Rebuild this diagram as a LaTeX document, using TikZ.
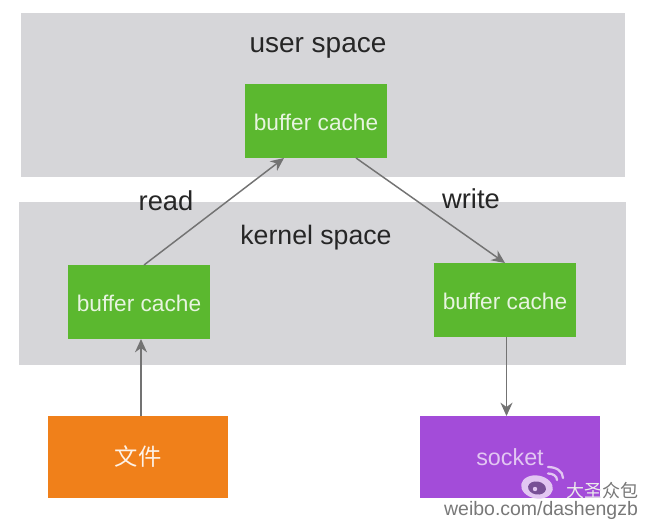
\documentclass[tikz,border=0pt]{standalone}
\usepackage{fontspec}
\setmainfont{Liberation Sans}
\newfontfamily\cjk{Noto Sans CJK SC}
\usetikzlibrary{arrows.meta}
\definecolor{panel}{RGB}{214,214,217}
\definecolor{gbox}{RGB}{91,184,47}
\definecolor{obox}{RGB}{240,128,26}
\definecolor{pbox}{RGB}{163,76,217}
\definecolor{conn}{RGB}{115,115,115}
\definecolor{logo}{RGB}{226,198,242}
\definecolor{eyec}{RGB}{120,80,150}
\definecolor{wmtext}{RGB}{120,120,120}
\tikzset{
 px/.style={x=0.75pt,y=-0.75pt},
 panelbox/.style={fill=panel,draw=none,anchor=north west,inner sep=0pt},
 cachebox/.style={fill=gbox,draw=none,minimum width=106.5pt,minimum height=55pt,inner sep=0pt,text=white!85!gbox,font=\fontsize{17}{20}\selectfont},
 srcbox/.style={draw=none,minimum width=135pt,minimum height=62pt,inner sep=0pt,font=\fontsize{17.5}{20}\selectfont},
 lbl/.style={text=black!85,inner sep=0pt,anchor=base},
 wm/.style={text=wmtext,inner sep=0pt},
 conn/.style={draw=conn,line width=1.1pt,-{Stealth[length=10pt,width=9pt]}}
}
\newcommand{\bufferlabel}{\raisebox{-0.75pt}[\height][\depth]{buffer cache}}
\begin{document}
\begin{tikzpicture}[px]
\useasboundingbox (0,0) rectangle (645,527);
\fill[white] (0,0) rectangle (645,527);
\node[panelbox,minimum width=453pt,minimum height=123pt] (user) at (21,13) {};
\node[panelbox,minimum width=455pt,minimum height=122pt] (kernel) at (19,202) {};
\node[lbl,font=\fontsize{21}{25}\selectfont] (ul) at (318,52.5) {user space};
\node[lbl,font=\fontsize{20}{24}\selectfont] (kl) at (316,244) {kernel space};
\node[cachebox] (top) at (316,121) {\bufferlabel};
\node[cachebox] (left) at (139,302) {\bufferlabel};
\node[cachebox] (right) at (505,300) {\bufferlabel};
\node[srcbox,fill=obox,text=white!90!obox] (file) at (138,457) {\cjk 文件};
\node[srcbox,fill=pbox,text=logo] (sock) at (510,457) {socket};
\node[lbl,font=\fontsize{20.5}{24}\selectfont] (rd) at (166,210) {read};
\node[lbl,font=\fontsize{20.5}{24}\selectfont] (wr) at (471,209) {write};
\coordinate (a1) at (144,265);
\coordinate (a2) at (284,158);
\coordinate (b1) at (356,158);
\coordinate (b2) at (505,263);
\coordinate (c1) at (141,416);
\coordinate (c2) at (141,339);
\coordinate (d1) at (506.5,337);
\coordinate (d2) at (506.5,416);
\draw[conn] (a1) -- (a2);
\draw[conn] (b1) -- (b2);
\draw[conn] (c1) -- (c2);
\draw[conn] (d1) -- (d2);
\node[wm,font=\fontsize{13.5}{15}\selectfont] (wb) at (602.5,491) {\cjk\textcolor{white!85!wmtext}{大圣}众包};
\node[wm,font=\fontsize{14.6}{17}\selectfont] (url) at (541,510) {weibo.com/dashengzb};
% weibo logo
\fill[logo,rotate around={-10:(537,487)}] (537,487) ellipse (16 and 11.5);
\fill[eyec,rotate around={-10:(537,488)}] (537,488) ellipse (9 and 6.5);
\fill[logo] (535,489) circle (2.2);
\draw[logo,line width=1.7pt,line cap=round] (548,473.5) .. controls (553,473.5) and (557,476) .. (557,480);
\draw[logo,line width=1.7pt,line cap=round] (548,467) .. controls (556,467) and (563,471) .. (563,478);
\end{tikzpicture}
\end{document}
